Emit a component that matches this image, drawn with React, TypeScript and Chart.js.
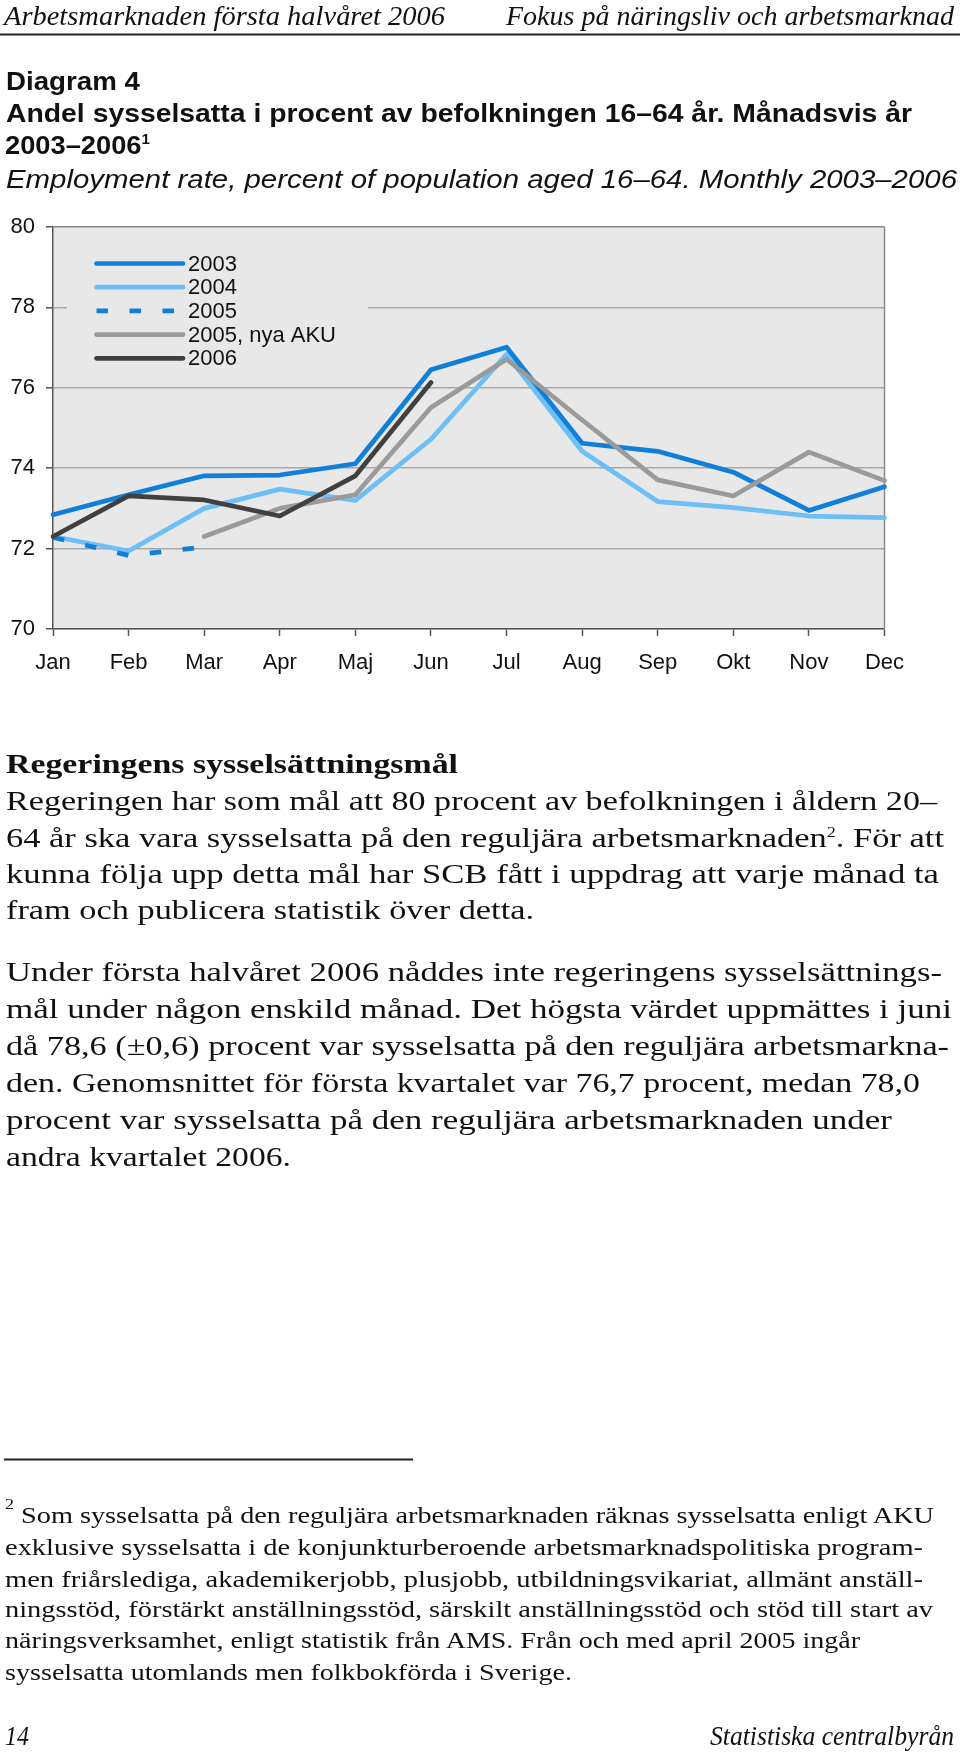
import React, { useEffect, useRef } from 'react';
import { Chart, registerables } from 'chart.js';

Chart.register(...registerables);

// ---------- chart data ----------
const months = ['Jan', 'Feb', 'Mar', 'Apr', 'Maj', 'Jun', 'Jul', 'Aug', 'Sep', 'Okt', 'Nov', 'Dec'];
const seriesLabels = ['2003', '2004', '2005', '2005, nya AKU', '2006'];
const y2003 = [72.84, 73.34, 73.81, 73.83, 74.11, 76.45, 77.01, 74.62, 74.42, 73.9, 72.95, 73.54];
const y2004 = [72.3, 71.94, 73.0, 73.48, 73.2, 74.72, 76.83, 74.42, 73.17, 73.02, 72.81, 72.77];
const y2005 = [72.28, 71.83, 72.04, null, null, null, null, null, null, null, null, null];
const y2005nya = [null, null, 72.3, 73.0, 73.34, 75.51, 76.71, 75.2, 73.71, 73.31, 74.4, 73.69];
const y2006 = [72.3, 73.31, 73.21, 72.81, 73.81, 76.13, null, null, null, null, null, null];
const yMin = 70;
const yMax = 80;
const yStep = 2;

// ---------- styles ----------
const BLUE = '#0f7fd9';
const LIGHT = '#6dbff5';
const GRAY = '#9a9a9a';
const DARK = '#404040';
const PLOT_BG = '#e8e8e8';
const SANS = "'Liberation Sans', Arial, sans-serif";
const SERIF = "'Liberation Serif', 'Times New Roman', serif";

// ---------- page text ----------
type Seg = { t: string; sup?: boolean };
type TextLine = {
  segs: string | Seg[];
  x: number;
  y: number;
  w: number;
  font: string;
  size: number;
  bold?: boolean;
  italic?: boolean;
  supSize?: number;
  rise?: number;
};

const headerLines: TextLine[] = [
  { segs: 'Arbetsmarknaden första halvåret 2006', x: 4, y: 25, w: 441, font: SERIF, size: 28, italic: true },
  { segs: 'Fokus på näringsliv och arbetsmarknad', x: 506, y: 25, w: 448, font: SERIF, size: 28, italic: true },
];

const titleLines: TextLine[] = [
  { segs: 'Diagram 4', x: 6, y: 89.5, w: 134, font: SANS, size: 25, bold: true },
  { segs: 'Andel sysselsatta i procent av befolkningen 16–64 år. Månadsvis år', x: 6, y: 121.5, w: 906, font: SANS, size: 25, bold: true },
  { segs: [{ t: '2003–2006' }, { t: '1', sup: true }], x: 5, y: 154, w: 145, font: SANS, size: 25, bold: true, supSize: 14, rise: 10 },
  { segs: 'Employment rate, percent of population aged 16–64. Monthly 2003–2006', x: 6, y: 187.5, w: 951, font: SANS, size: 25, italic: true },
];

const bodyLines: TextLine[] = [
  { segs: 'Regeringens sysselsättningsmål', x: 6, y: 773, w: 452, font: SERIF, size: 27, bold: true },
  { segs: 'Regeringen har som mål att 80 procent av befolkningen i åldern 20–', x: 6, y: 810, w: 931, font: SERIF, size: 26.5 },
  { segs: [{ t: '64 år ska vara sysselsatta på den reguljära arbetsmarknaden' }, { t: '2', sup: true }, { t: '. För att' }], x: 6, y: 846.5, w: 938, font: SERIF, size: 26.5, supSize: 14, rise: 10 },
  { segs: 'kunna följa upp detta mål har SCB fått i uppdrag att varje månad ta', x: 6, y: 883, w: 933, font: SERIF, size: 26.5 },
  { segs: 'fram och publicera statistik över detta.', x: 6, y: 919, w: 528, font: SERIF, size: 26.5 },
  { segs: 'Under första halvåret 2006 nåddes inte regeringens sysselsättnings-', x: 6, y: 981, w: 936, font: SERIF, size: 26.5 },
  { segs: 'mål under någon enskild månad. Det högsta värdet uppmättes i juni', x: 6, y: 1018, w: 946, font: SERIF, size: 26.5 },
  { segs: 'då 78,6 (±0,6) procent var sysselsatta på den reguljära arbetsmarkna-', x: 6, y: 1055, w: 943, font: SERIF, size: 26.5 },
  { segs: 'den. Genomsnittet för första kvartalet var 76,7 procent, medan 78,0', x: 6, y: 1092, w: 914, font: SERIF, size: 26.5 },
  { segs: 'procent var sysselsatta på den reguljära arbetsmarknaden under', x: 6, y: 1129, w: 886, font: SERIF, size: 26.5 },
  { segs: 'andra kvartalet 2006.', x: 6, y: 1166, w: 285, font: SERIF, size: 26.5 },
];

const footLines: TextLine[] = [
  { segs: [{ t: '2', sup: true }, { t: ' Som sysselsatta på den reguljära arbetsmarknaden räknas sysselsatta enligt AKU' }], x: 5, y: 1523, w: 929, font: SERIF, size: 23.5, supSize: 15, rise: 14 },
  { segs: 'exklusive sysselsatta i de konjunkturberoende arbetsmarknadspolitiska program-', x: 5, y: 1555, w: 918, font: SERIF, size: 23.5 },
  { segs: 'men friårslediga, akademikerjobb, plusjobb, utbildningsvikariat, allmänt anställ-', x: 5, y: 1586.5, w: 918, font: SERIF, size: 23.5 },
  { segs: 'ningsstöd, förstärkt anställningsstöd, särskilt anställningsstöd och stöd till start av', x: 5, y: 1617, w: 928, font: SERIF, size: 23.5 },
  { segs: 'näringsverksamhet, enligt statistik från AMS. Från och med april 2005 ingår', x: 5, y: 1648, w: 855, font: SERIF, size: 23.5 },
  { segs: 'sysselsatta utomlands men folkbokförda i Sverige.', x: 5, y: 1679.5, w: 567, font: SERIF, size: 23.5 },
  { segs: '14', x: 5, y: 1745, w: 24, font: SERIF, size: 28, italic: true },
  { segs: 'Statistiska centralbyrån', x: 710, y: 1745, w: 244, font: SERIF, size: 28, italic: true },
];

function renderLine(l: TextLine, key: string) {
  const segs: Seg[] = typeof l.segs === 'string' ? [{ t: l.segs }] : l.segs;
  const rise = l.rise ?? 9;
  let raised = false;
  const kids = segs.map((s, j) => {
    if (s.sup) {
      const el = (
        <tspan key={j} dy={raised ? 0 : -rise} fontSize={l.supSize ?? 13}>
          {s.t}
        </tspan>
      );
      raised = true;
      return el;
    }
    const el = (
      <tspan key={j} dy={raised ? rise : 0}>
        {s.t}
      </tspan>
    );
    raised = false;
    return el;
  });
  return (
    <text
      key={key}
      x={l.x}
      y={l.y}
      textLength={l.w}
      lengthAdjust="spacingAndGlyphs"
      fontFamily={l.font}
      fontSize={l.size}
      fontWeight={l.bold ? 'bold' : 'normal'}
      fontStyle={l.italic ? 'italic' : 'normal'}
      fill="#111"
      style={{ whiteSpace: 'pre' }}
    >
      {kids}
    </text>
  );
}

// ---------- chart plugin: plot background, right border, legend ----------
const framePlugin = {
  id: 'frame',
  beforeDraw(chart: any) {
    const { ctx, chartArea: a } = chart;
    ctx.save();
    ctx.fillStyle = PLOT_BG;
    ctx.fillRect(a.left, a.top, a.right - a.left, a.bottom - a.top);
    ctx.restore();
  },
  beforeDatasetsDraw(chart: any) {
    const { ctx, chartArea: a } = chart;
    ctx.save();
    ctx.strokeStyle = '#8a8a8a';
    ctx.lineWidth = 1.5;
    ctx.beginPath();
    ctx.moveTo(a.right, a.top);
    ctx.lineTo(a.right, a.bottom);
    ctx.stroke();
    ctx.restore();
  },
  afterDatasetsDraw(chart: any) {
    const { ctx, chartArea: a } = chart;
    ctx.save();
    // legend background (covers gridline)
    ctx.fillStyle = PLOT_BG;
    ctx.fillRect(a.left + 14, a.top + 13, 301, 135);
    const x0 = a.left + 43.5;
    const x1 = a.left + 130;
    const rowTop = a.top + 36.5;
    const rowStep = 23.7;
    chart.data.datasets.forEach((ds: any, i: number) => {
      const y = rowTop + i * rowStep;
      ctx.strokeStyle = ds.borderColor;
      ctx.lineWidth = ds.borderWidth;
      if (ds.borderDash && ds.borderDash.length) {
        ctx.setLineDash(ds.borderDash);
        ctx.lineCap = 'butt';
      } else {
        ctx.setLineDash([]);
        ctx.lineCap = 'round';
      }
      ctx.beginPath();
      ctx.moveTo(x0, y);
      ctx.lineTo(x1, y);
      ctx.stroke();
      ctx.setLineDash([]);
      ctx.fillStyle = '#111';
      ctx.font = `22px ${SANS}`;
      ctx.textBaseline = 'middle';
      ctx.textAlign = 'left';
      ctx.fillText(ds.label, a.left + 135, y + 1);
    });
    ctx.restore();
  },
};

function EmploymentChart() {
  const ref = useRef<HTMLCanvasElement>(null);
  useEffect(() => {
    if (!ref.current) return;
    const mk = (label: string, data: (number | null)[], color: string, order: number, dash?: number[]) => ({
      label,
      data,
      borderColor: color,
      backgroundColor: color,
      borderWidth: 4.7,
      borderDash: dash ?? [],
      borderCapStyle: dash ? 'butt' : 'round',
      borderJoinStyle: 'round',
      pointRadius: 0,
      pointHoverRadius: 0,
      tension: 0,
      fill: false,
      spanGaps: false,
      order,
    });
    const chart = new Chart(ref.current, {
      type: 'line',
      data: {
        labels: months,
        datasets: [
          mk(seriesLabels[0], y2003, BLUE, 2),
          mk(seriesLabels[1], y2004, LIGHT, 4),
          mk(seriesLabels[2], y2005, BLUE, 3, [11.5, 21.5]),
          mk(seriesLabels[3], y2005nya, GRAY, 1),
          mk(seriesLabels[4], y2006, DARK, 0),
        ] as any,
      },
      options: {
        animation: false,
        responsive: false,
        maintainAspectRatio: false,
        layout: { padding: { left: 0, right: 75.5, top: 32, bottom: 0 } },
        plugins: {
          legend: { display: false },
          tooltip: { enabled: false },
          title: { display: false },
        },
        scales: {
          x: {
            type: 'category',
            offset: false,
            afterFit: (s: any) => {
              s.height = 66;
            },
            grid: {
              drawOnChartArea: false,
              drawTicks: true,
              tickLength: 7,
              tickColor: '#555',
              tickWidth: 1.5,
            },
            border: { display: true, color: '#555', width: 1.5 },
            ticks: {
              autoSkip: false,
              maxRotation: 0,
              minRotation: 0,
              color: '#111',
              padding: 14,
              font: { family: SANS, size: 22 },
            },
          },
          y: {
            min: yMin,
            max: yMax,
            afterFit: (s: any) => {
              s.width = 53;
            },
            grid: {
              color: (c: any) => (c.tick && c.tick.value === yMax ? '#8a8a8a' : '#a8a8a8'),
              lineWidth: 1.5,
              drawTicks: true,
              tickLength: 7,
              tickColor: '#555',
            },
            border: { display: true, color: '#555', width: 1.5 },
            ticks: {
              stepSize: yStep,
              color: '#111',
              padding: 11,
              font: { family: SANS, size: 22 },
            },
          },
        },
      } as any,
      plugins: [framePlugin],
    });
    return () => chart.destroy();
  }, []);
  return (
    <canvas
      ref={ref}
      width={960}
      height={500}
      style={{ position: 'absolute', left: 0, top: 195, width: 960, height: 500 }}
    />
  );
}

export default function App() {
  return (
    <div
      style={{
        position: 'absolute',
        left: 0,
        top: 0,
        width: 960,
        height: 1756,
        background: '#fff',
        overflow: 'hidden',
      }}
    >
      <EmploymentChart />
      <svg
        width={960}
        height={1756}
        style={{ position: 'absolute', left: 0, top: 0, pointerEvents: 'none' }}
      >
        {headerLines.map((l, i) => renderLine(l, 'h' + i))}
        <rect x={0} y={33.5} width={960} height={2} fill="#222" />
        {titleLines.map((l, i) => renderLine(l, 't' + i))}
        {bodyLines.map((l, i) => renderLine(l, 'b' + i))}
        <rect x={4} y={1458.5} width={409} height={2} fill="#222" />
        {footLines.map((l, i) => renderLine(l, 'f' + i))}
      </svg>
    </div>
  );
}
